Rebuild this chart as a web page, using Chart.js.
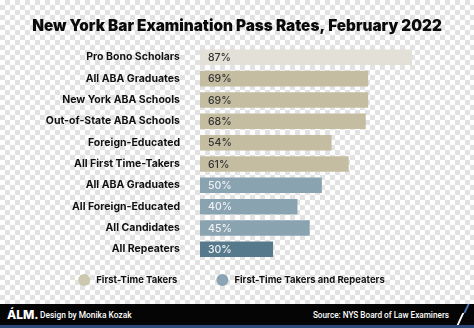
<!DOCTYPE html>
<html><head><meta charset="utf-8">
<script src="https://cdn.jsdelivr.net/npm/chart.js@4.4.0/dist/chart.umd.min.js"></script>
<style>
html,body{margin:0;padding:0;}
body{width:474px;height:328px;overflow:hidden;position:relative;background:repeating-conic-gradient(#e2e2e2 0% 25%, #ffffff 0% 50%) 0 0/10px 10px;font-family:Inter,sans-serif;}
#wrap{position:absolute;left:0;top:0;width:474px;height:304px;}
#footer{position:absolute;left:0;top:304px;width:474px;height:21px;background:#050505;border-bottom:3px solid #2c4a78;color:#fff;overflow:hidden;}
#logo{position:absolute;left:7px;top:3px;font:800 12px Inter,sans-serif;letter-spacing:0px;}
#design{position:absolute;left:40px;top:6px;font:500 8.4px Roboto,sans-serif;}
#source{position:absolute;right:25px;top:6px;font:500 8.2px Roboto,sans-serif;}
#slash1{position:absolute;left:466px;top:-2px;width:2px;height:11px;background:#4a7ab8;transform:skewX(-25deg);}
#slash2{position:absolute;left:459px;top:9px;width:2px;height:14px;background:#fff;transform:skewX(-25deg);}
</style></head>
<body>
<div id="wrap"><canvas id="c" width="474" height="304"></canvas></div>
<div id="footer"><span id="logo">ÁLM.</span><span id="design">Design by Monika Kozak</span><span id="source">Source: NYS Board of Law Examiners</span><div id="slash1"></div><div id="slash2"></div></div>
<script>
const categories = ["Pro Bono Scholars","All ABA Graduates","New York ABA Schools","Out-of-State ABA Schools","Foreign-Educated","All First Time-Takers","All ABA Graduates","All Foreign-Educated","All Candidates","All Repeaters"];
const firstTimeTakers = [87,69,69,68,54,61,null,null,null,null];
const firstTimeAndRepeaters = [null,null,null,null,null,null,50,40,45,30];
const seriesNames = ["First-Time Takers","First-Time Takers and Repeaters"];
const titleText = "New York Bar Examination Pass Rates, February 2022";

const tanColors = ["#e3e0d7","#c4bda2","#c4bda2","#c4bda2","#c4bda2","#c4bda2","#c4bda2","#c4bda2","#c4bda2","#c4bda2"];
const blueColors = ["#8aa3b1","#8aa3b1","#8aa3b1","#8aa3b1","#8aa3b1","#8aa3b1","#8aa3b1","#8aa3b1","#8aa3b1","#57798c"];
const legendColors = ["#cdc7af","#8aa3b5"];
const labelColors = ["#333333","#eef2f5"];

const valueLabels = {
  id:'valueLabels',
  afterDatasetsDraw(chart){
    const ctx = chart.ctx;
    const x0 = chart.scales.x.getPixelForValue(0);
    ctx.save();
    ctx.font = '500 10.5px Inter, sans-serif';
    ctx.textBaseline = 'middle';
    ctx.textAlign = 'left';
    chart.data.datasets.forEach((ds, di) => {
      const meta = chart.getDatasetMeta(di);
      meta.data.forEach((el, i) => {
        const v = ds.data[i];
        if (v === null || v === undefined) return;
        ctx.fillStyle = labelColors[di];
        ctx.fillText(v + '%', x0 + 8, el.y + 0.5);
      });
    });
    ctx.restore();
  }
};

const customLegend = {
  id:'customLegend',
  afterDraw(chart){
    const ctx = chart.ctx;
    ctx.save();
    ctx.font = '700 9.5px Inter, sans-serif';
    ctx.textBaseline = 'middle';
    const r = 6, textGap = 6, itemGap = 39;
    const names = chart.data.datasets.map(d => d.label);
    const widths = names.map(n => ctx.measureText(n).width);
    const total = widths.reduce((a, w) => a + 2*r + textGap + w, 0) + itemGap*(names.length-1);
    const cy = chart.chartArea.bottom + 20;
    let x = 231.5 - total/2;
    names.forEach((n, i) => {
      ctx.fillStyle = legendColors[i];
      ctx.beginPath(); ctx.arc(x + r, cy, r, 0, Math.PI*2); ctx.fill();
      ctx.fillStyle = '#111';
      ctx.fillText(n, x + 2*r + textGap, cy + 0.5);
      x += 2*r + textGap + widths[i] + itemGap;
    });
    ctx.restore();
  }
};

new Chart(document.getElementById('c'), {
  type: 'bar',
  data: {
    labels: categories,
    datasets: [
      {label: seriesNames[0], data: firstTimeTakers, backgroundColor: tanColors, barPercentage: 0.73, categoryPercentage: 1.0},
      {label: seriesNames[1], data: firstTimeAndRepeaters, backgroundColor: blueColors, barPercentage: 0.73, categoryPercentage: 1.0}
    ]
  },
  options: {
    indexAxis: 'y',
    responsive: false,
    animation: false,
    layout: {padding: {left: 12, right: 12, top: 0, bottom: 44}},
    scales: {
      x: {stacked: true, min: 0, max: 107.5, display: false},
      y: {stacked: true, grid: {display: false}, border: {display: false},
          afterFit(axis){ axis.width = 188; },
          ticks: {color: '#111', padding: 12, font: {family: 'Inter', weight: '700', size: 10.5}}}
    },
    plugins: {
      title: {display: true, text: titleText, color: '#0a0a0a', font: {family: 'Inter', weight: '900', size: 15.3}, padding: {top: 17.5, bottom: 10.8}},
      legend: {display: false},
      tooltip: {enabled: false}
    }
  },
  plugins: [valueLabels, customLegend]
});
</script>
</body></html>
